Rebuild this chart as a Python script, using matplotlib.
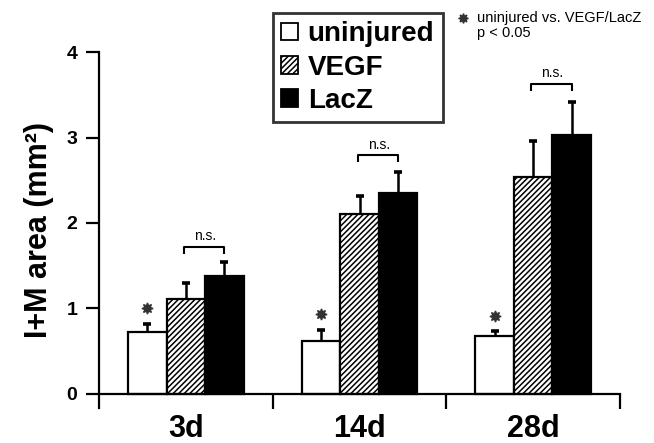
import matplotlib
matplotlib.use("Agg")
import matplotlib.pyplot as plt
from matplotlib.patches import Patch
import numpy as np

plt.rcParams['font.family'] = ['Liberation Sans', 'DejaVu Sans']
plt.rcParams['hatch.linewidth'] = 1.1

days = ["3d", "14d", "28d"]
uninjured = [0.72, 0.61, 0.67]
uninjured_err = [0.10, 0.14, 0.06]
vegf = [1.11, 2.11, 2.54]
vegf_err = [0.18, 0.20, 0.42]
lacz = [1.38, 2.35, 3.03]
lacz_err = [0.16, 0.25, 0.39]
bracket_y = [1.72, 2.79, 3.63]

x = np.arange(len(days))
w = 0.222

fig = plt.figure(figsize=(6.54, 4.43), dpi=100)
ax = fig.add_axes([0.1514, 0.079, 0.7966, 0.803])

ax.bar(x - w, uninjured, w, color='white', edgecolor='black', linewidth=1.6, zorder=2)
ax.bar(x, vegf, w, color='white', edgecolor='black', linewidth=1.6, hatch='//////', zorder=2)
ax.bar(x + w, lacz, w, color='black', edgecolor='black', linewidth=1.6, zorder=2)

# symmetric error bars drawn behind the bars, so only the upper half shows
for xs, vals, errs in [(x - w, uninjured, uninjured_err), (x, vegf, vegf_err), (x + w, lacz, lacz_err)]:
    ax.errorbar(xs, vals, yerr=errs, fmt='none', ecolor='black',
                elinewidth=1.8, capsize=2.6, capthick=2.6, zorder=1)

# significance stars above uninjured
for i in range(len(days)):
    ax.plot(x[i] - w, uninjured[i] + uninjured_err[i] + 0.18, marker=(8, 1, 0),
            markersize=8, color='#333333', zorder=3)

# n.s. brackets between VEGF and LacZ
for i in range(len(days)):
    by = bracket_y[i]
    ax.plot([x[i] - 0.01, x[i] - 0.01, x[i] + w, x[i] + w], [by - 0.08, by, by, by - 0.08],
            color='black', linewidth=1.5, solid_capstyle='butt')
    ax.text(x[i] + w / 2, by + 0.04, "n.s.", ha='center', va='bottom', fontsize=10)

ax.set_xlim(-0.5, 2.5)
ax.set_ylim(-0.17, 4)
ax.spines['top'].set_visible(False)
ax.spines['right'].set_visible(False)
ax.spines['bottom'].set_position(('data', 0))
ax.spines['left'].set_bounds(-0.17, 4)
for s in ['left', 'bottom']:
    ax.spines[s].set_linewidth(1.6)

ax.set_yticks([0, 1, 2, 3, 4])
ax.set_yticklabels(['0', '1', '2', '3', '4'], fontsize=14, fontweight='bold')
ax.tick_params(axis='y', direction='out', length=9.5, width=1.6, pad=6)

ax.set_xticks([0.5, 1.5, 2.5], minor=True)
ax.set_xticks(x)
ax.set_xticklabels(days, fontsize=22, fontweight='bold')
ax.tick_params(axis='x', which='major', length=0, pad=15)
ax.tick_params(axis='x', which='minor', direction='out', length=11, width=1.6)

ax.set_ylabel("I+M area (mm²)", fontsize=22, fontweight='bold', labelpad=9)

handles = [Patch(facecolor='white', edgecolor='black', linewidth=1.3, label='uninjured'),
           Patch(facecolor='white', edgecolor='black', linewidth=1.3, hatch='//////', label='VEGF'),
           Patch(facecolor='black', edgecolor='black', linewidth=1.3, label='LacZ')]
leg = fig.legend(handles=handles, loc='upper left', bbox_to_anchor=(0.4174, 0.9707),
                 borderaxespad=0, frameon=True, fancybox=False, handlelength=0.6,
                 handleheight=0.6, handletextpad=0.35, labelspacing=0.26,
                 borderpad=0.3, prop={'weight': 'bold', 'size': 20})
leg.get_frame().set_edgecolor('black')
leg.get_frame().set_linewidth(2)

fig.lines.append(plt.Line2D([463 / 654], [1 - 18 / 443], marker=(8, 1, 0), markersize=7,
                            color='#333333', transform=fig.transFigure))
fig.text(477 / 654, 1 - 18 / 443, "uninjured vs. VEGF/LacZ", fontsize=10.5, va='center', ha='left')
fig.text(477 / 654, 1 - 33 / 443, "p < 0.05", fontsize=10.5, va='center', ha='left')

fig.savefig("out.png", dpi=100)
